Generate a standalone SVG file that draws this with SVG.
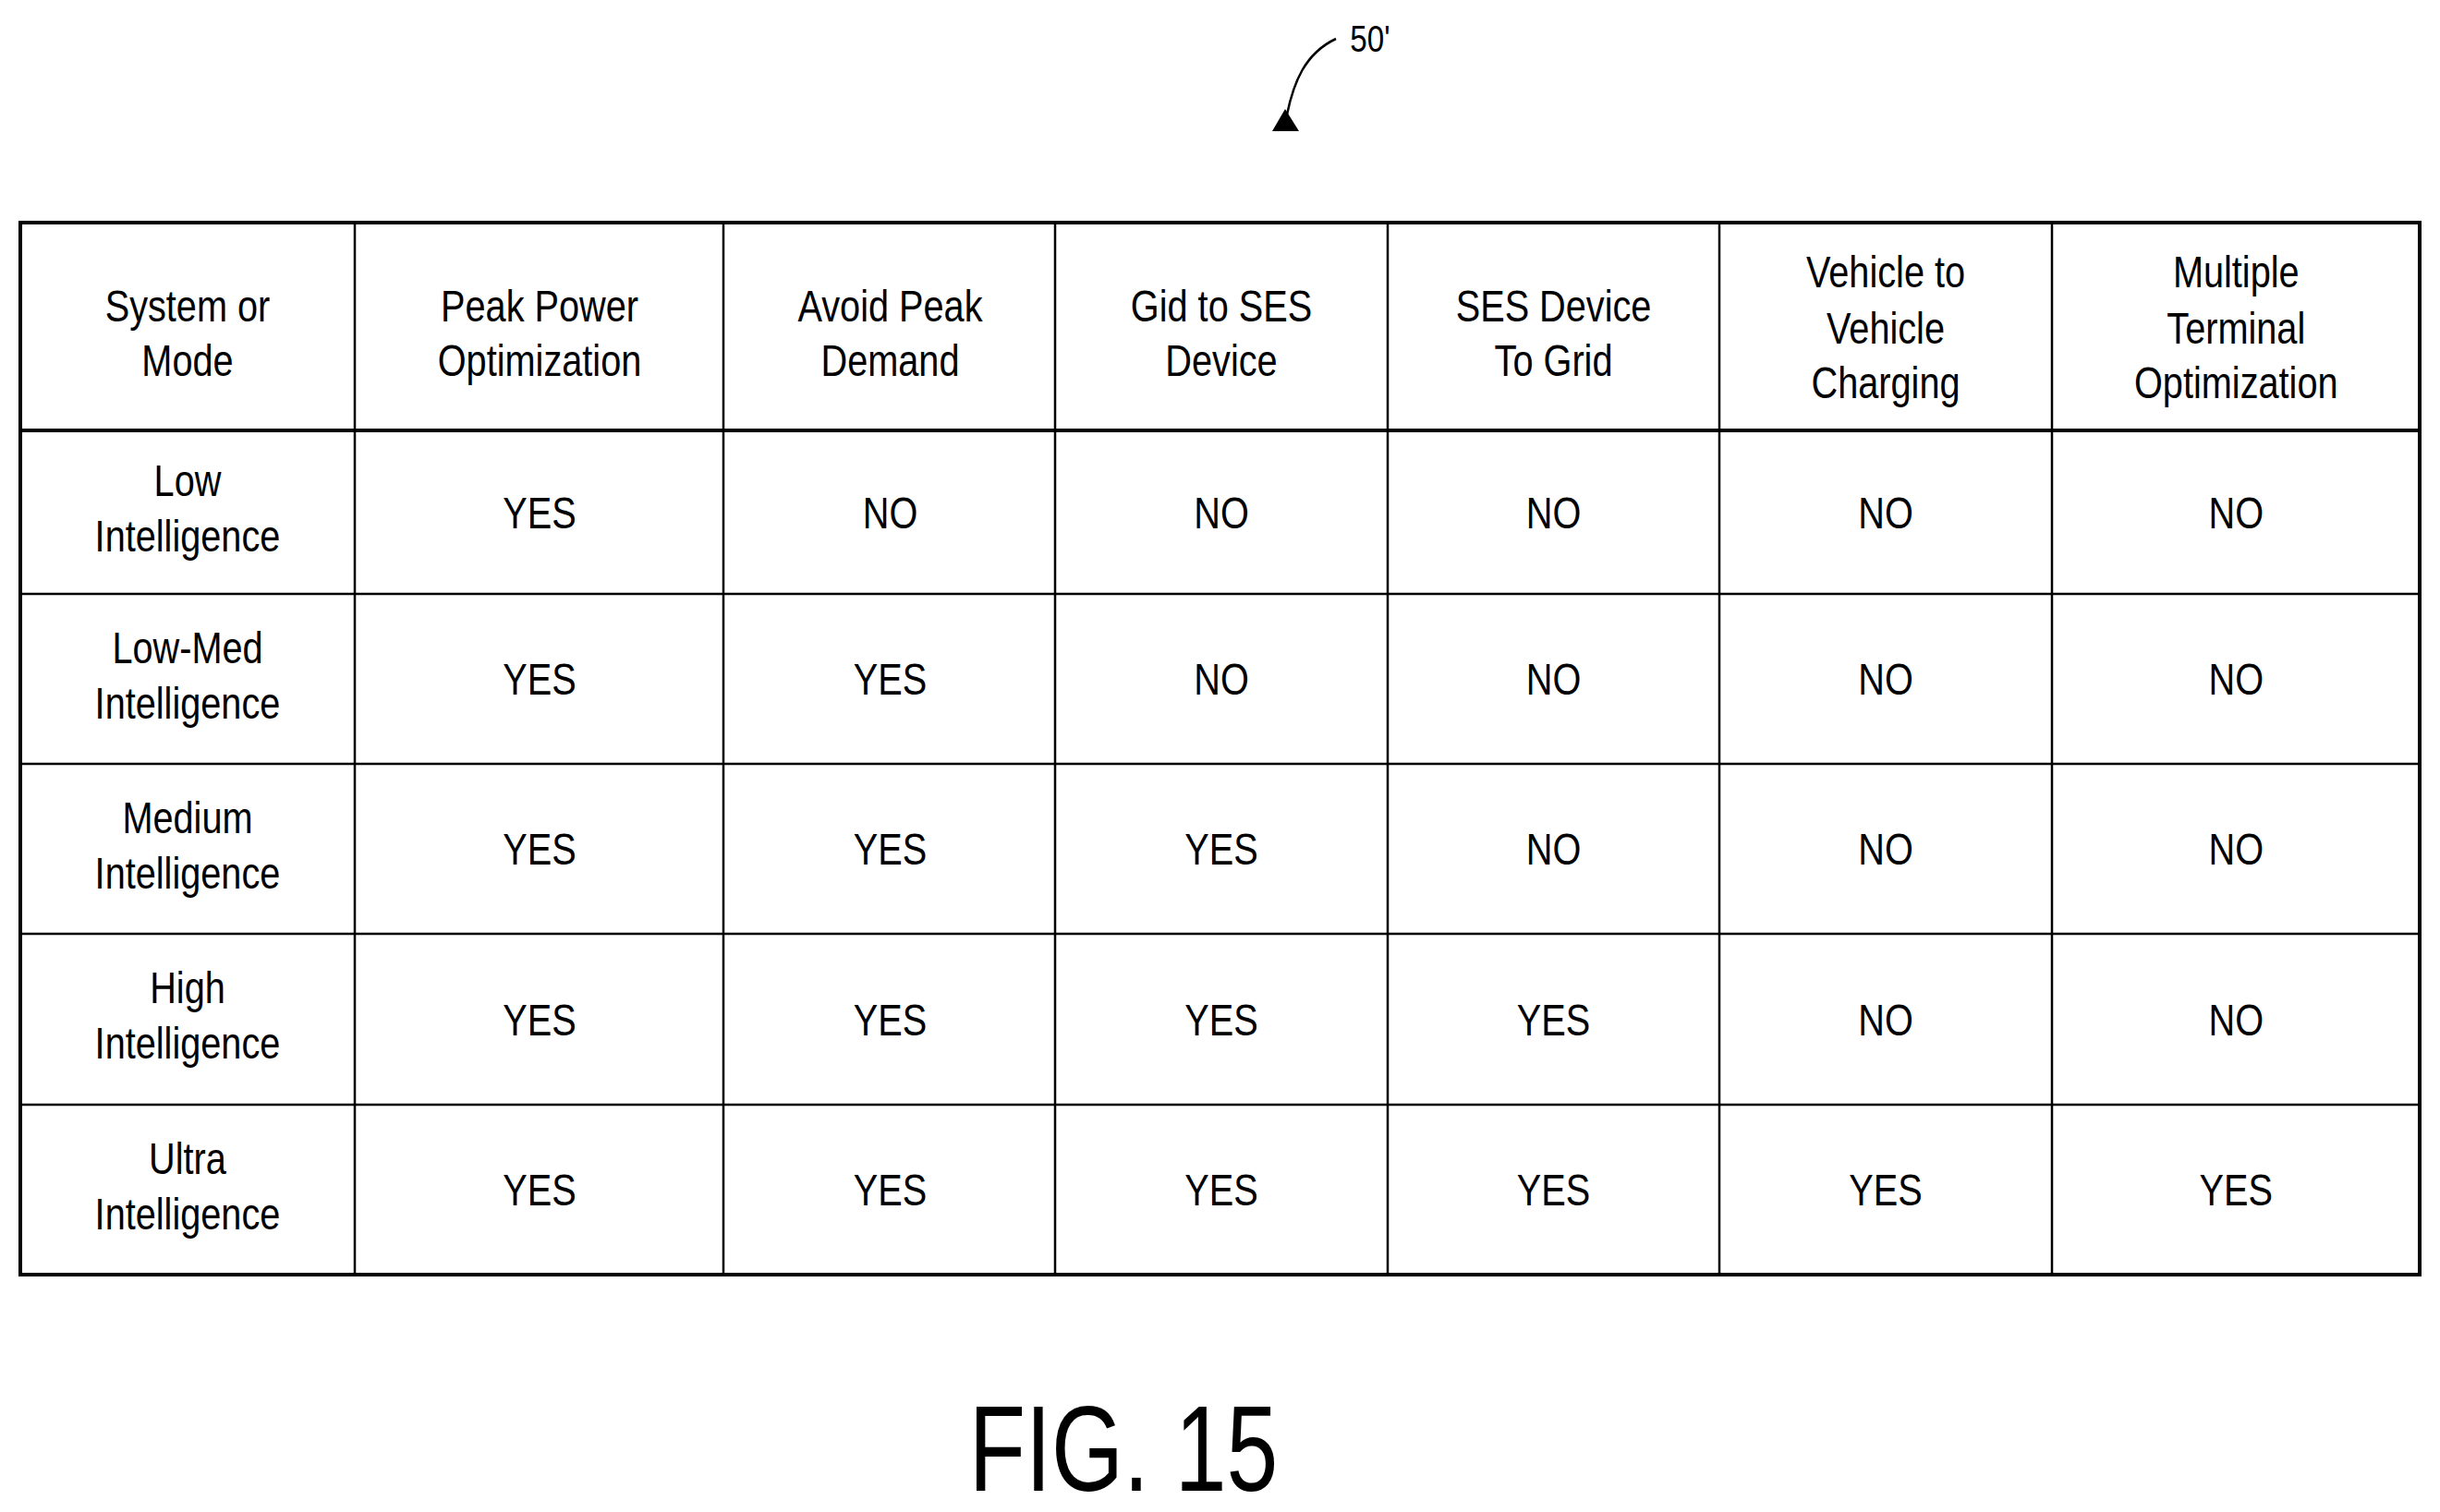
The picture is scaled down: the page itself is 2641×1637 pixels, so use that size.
<svg xmlns="http://www.w3.org/2000/svg" width="2641" height="1637" viewBox="0 0 2641 1637">
<style>
text{font-family:"Liberation Sans",Arial,sans-serif;font-size:49px;fill:#000;text-anchor:middle}
.t{stroke:#000;stroke-width:4;fill:none}
.n{stroke:#000;stroke-width:2.5;fill:none}
</style>
<rect width="2641" height="1637" fill="#fff"/>
<g id="grid">
<rect class="t" x="22" y="241" width="2597" height="1139"/>
<line class="t" x1="22" y1="466" x2="2619" y2="466"/>
<line class="n" x1="22" y1="643" x2="2619" y2="643"/>
<line class="n" x1="22" y1="827" x2="2619" y2="827"/>
<line class="n" x1="22" y1="1011" x2="2619" y2="1011"/>
<line class="n" x1="22" y1="1196" x2="2619" y2="1196"/>
<line class="n" x1="384" y1="241" x2="384" y2="1380"/>
<line class="n" x1="783" y1="241" x2="783" y2="1380"/>
<line class="n" x1="1142" y1="241" x2="1142" y2="1380"/>
<line class="n" x1="1502" y1="241" x2="1502" y2="1380"/>
<line class="n" x1="1861" y1="241" x2="1861" y2="1380"/>
<line class="n" x1="2221" y1="241" x2="2221" y2="1380"/>
</g>
<g id="connectors">
<path d="M1446,42 C1412,58 1400,90 1393,124" stroke="#000" stroke-width="2.5" fill="none"/>
<polygon points="1391,118 1377,142 1406,142"/>
</g>
<g id="ref"><text x="1483" y="56" style="font-size:40px" transform="translate(1483,0) scale(0.83,1) translate(-1483,0)">50'</text></g>
<g transform="scale(0.81,1)">
<g id="header">
<text x="250.6" y="348">System or</text><text x="250.6" y="407">Mode</text>
<text x="721" y="348">Peak Power</text><text x="721" y="407">Optimization</text>
<text x="1189.5" y="348">Avoid Peak</text><text x="1189.5" y="407">Demand</text>
<text x="1632.1" y="348">Gid to SES</text><text x="1632.1" y="407">Device</text>
<text x="2076" y="348">SES Device</text><text x="2076" y="407">To Grid</text>
<text x="2519.8" y="311">Vehicle to</text><text x="2519.8" y="372">Vehicle</text><text x="2519.8" y="431">Charging</text>
<text x="2988" y="311">Multiple</text><text x="2988" y="372">Terminal</text><text x="2988" y="431">Optimization</text>
</g>
<g id="row1">
<text x="250.6" y="537">Low</text><text x="250.6" y="597">Intelligence</text>
<text x="721" y="572">YES</text><text x="1189.5" y="572">NO</text><text x="1632.1" y="572">NO</text><text x="2076" y="572">NO</text><text x="2519.8" y="572">NO</text><text x="2988" y="572">NO</text>
</g>
<g id="row2">
<text x="250.6" y="718">Low-Med</text><text x="250.6" y="778">Intelligence</text>
<text x="721" y="752">YES</text><text x="1189.5" y="752">YES</text><text x="1632.1" y="752">NO</text><text x="2076" y="752">NO</text><text x="2519.8" y="752">NO</text><text x="2988" y="752">NO</text>
</g>
<g id="row3">
<text x="250.6" y="902">Medium</text><text x="250.6" y="962">Intelligence</text>
<text x="721" y="936">YES</text><text x="1189.5" y="936">YES</text><text x="1632.1" y="936">YES</text><text x="2076" y="936">NO</text><text x="2519.8" y="936">NO</text><text x="2988" y="936">NO</text>
</g>
<g id="row4">
<text x="250.6" y="1086">High</text><text x="250.6" y="1146">Intelligence</text>
<text x="721" y="1121">YES</text><text x="1189.5" y="1121">YES</text><text x="1632.1" y="1121">YES</text><text x="2076" y="1121">YES</text><text x="2519.8" y="1121">NO</text><text x="2988" y="1121">NO</text>
</g>
<g id="row5">
<text x="250.6" y="1271">Ultra</text><text x="250.6" y="1331">Intelligence</text>
<text x="721" y="1305">YES</text><text x="1189.5" y="1305">YES</text><text x="1632.1" y="1305">YES</text><text x="2076" y="1305">YES</text><text x="2519.8" y="1305">YES</text><text x="2988" y="1305">YES</text>
</g>
</g>
<g id="caption" transform="scale(0.76,1)"><text x="1600" y="1614" style="font-size:132px">FIG. 15</text></g>
</svg>
